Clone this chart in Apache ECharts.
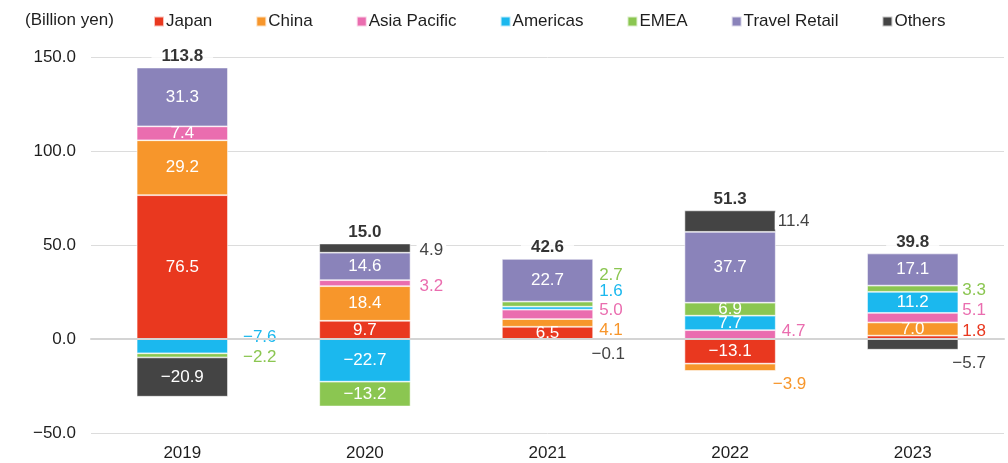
<!DOCTYPE html>
<html>
<head>
<meta charset="utf-8">
<script src="https://cdn.jsdelivr.net/npm/echarts@6/dist/echarts.min.js"></script>
<style>
  html, body { margin: 0; padding: 0; background: #fff; }
  #chart { width: 1008px; height: 463px; }
</style>
</head>
<body>
<div id="chart"></div>
<script>
// Operating profit by region, billion yen
const years = ['2019', '2020', '2021', '2022', '2023'];
const japan        = [76.5,   9.7,  6.5, -13.1,  1.8];
const china        = [29.2,  18.4,  4.1,  -3.9,  7.0];
const asiaPacific  = [ 7.4,   3.2,  5.0,   4.7,  5.1];
const americas     = [-7.6, -22.7,  1.6,   7.7, 11.2];
const emea         = [-2.2, -13.2,  2.7,   6.9,  3.3];
const travelRetail = [31.3,  14.6, 22.7,  37.7, 17.1];
const others       = [-20.9,  4.9, -0.1,  11.4, -5.7];
const totals       = [113.8, 15.0, 42.6,  51.3, 39.8];
const axisMin = -50, axisMax = 150, axisStep = 50;

const FONT = '"Liberation Sans", Arial, sans-serif';
const TEXT = '#1e1e1e';

const seriesDefs = [
  { key: 'japan',  name: 'Japan',         data: japan,        color: '#E9381F' },
  { key: 'china',  name: 'China',         data: china,        color: '#F7962B' },
  { key: 'ap',     name: 'Asia Pacific',  data: asiaPacific,  color: '#EA6DAF' },
  { key: 'am',     name: 'Americas',      data: americas,     color: '#1BB8EE' },
  { key: 'emea',   name: 'EMEA',          data: emea,         color: '#8BC651' },
  { key: 'tr',     name: 'Travel Retail', data: travelRetail, color: '#8A83BA' },
  { key: 'oth',    name: 'Others',        data: others,       color: '#444444' }
];

// Small segments get their value written beside the bar: [dx, dy] nudges
const sideLabels = {
  'am:0':   [7, -9],  'emea:0': [7, 2],
  'oth:1':  [1, 2],   'ap:1':   [1, 3],
  'emea:2': [-2, -29], 'am:2':  [-2, -17], 'ap:2': [-2, -4], 'china:2': [-2, 7], 'oth:2': [-10, 15],
  'oth:3':  [-6, 0],  'ap:3':   [-2, -3.5], 'china:3': [-11, 17.5],
  'emea:4': [-4, 1.5], 'ap:4':  [-4, -7], 'japan:4': [-4, -6], 'oth:4': [-14, 19]
};

const fmt = v => v.toFixed(1).replace('-', '\u2212');

const barSeries = seriesDefs.map(def => ({
  name: def.name,
  type: 'bar',
  stack: 'total',
  barWidth: '50%',
  itemStyle: { color: def.color, borderColor: 'rgba(255,255,255,0.7)', borderWidth: 0.8 },
  label: {
    show: true,
    position: 'inside',
    color: '#fff',
    fontSize: 17,
    fontFamily: FONT,
    formatter: p => fmt(p.value)
  },
  data: def.data.map((v, i) => {
    const side = sideLabels[def.key + ':' + i];
    if (!side) return v;
    return {
      value: v,
      label: {
        position: 'right',
        distance: 5,
        offset: side,
        color: def.color,
        backgroundColor: 'rgba(255,255,255,1)',
        padding: [0, 3]
      }
    };
  })
}));

// Net total written above the positive part of each bar
const positiveTop = years.map((_, i) =>
  seriesDefs.reduce((s, d) => s + (d.data[i] > 0 ? d.data[i] : 0), 0));

const totalSeries = {
  name: 'Total',
  type: 'scatter',
  symbolSize: 0,
  silent: true,
  z: 5,
  data: years.map((_, i) => [i, positiveTop[i]]),
  label: {
    show: true,
    position: 'top',
    distance: 3,
    color: '#000',
    fontWeight: 'bold',
    fontSize: 17,
    fontFamily: FONT,
    backgroundColor: '#fff',
    padding: [0, 10],
    formatter: p => totals[p.dataIndex].toFixed(1)
  }
};

const chart = echarts.init(document.getElementById('chart'), null, { renderer: 'canvas' });
chart.setOption({
  animation: false,
  backgroundColor: '#fff',
  title: {
    text: '(Billion yen)',
    left: 20,
    top: 7,
    textStyle: { fontSize: 17, fontWeight: 'normal', color: TEXT, fontFamily: FONT }
  },
  legend: {
    data: seriesDefs.map(d => d.name),
    left: 148,
    top: 8,
    icon: 'rect',
    itemWidth: 10,
    itemHeight: 10,
    itemGap: 43,
    textStyle: { fontSize: 17, color: TEXT, fontFamily: FONT, padding: [0, 0, 0, -3] }
  },
  grid: { left: 91, right: 4, top: 57, bottom: 30, containLabel: false },
  xAxis: [
    {
      type: 'category',
      data: years,
      position: 'bottom',
      axisLine: { show: false, onZero: false },
      axisTick: { show: false },
      axisLabel: { color: TEXT, fontSize: 17, fontFamily: FONT, margin: 12 }
    },
    {
      // zero baseline drawn over the bars
      type: 'category',
      data: years,
      position: 'top',
      z: 10,
      axisLine: { show: true, onZero: true, lineStyle: { color: '#d4d4d4', width: 2 } },
      axisTick: { show: false },
      axisLabel: { show: false }
    }
  ],
  yAxis: {
    type: 'value',
    min: axisMin,
    max: axisMax,
    interval: axisStep,
    axisLine: { show: false },
    axisTick: { show: false },
    axisLabel: { color: TEXT, fontSize: 17, fontFamily: FONT, margin: 15, formatter: v => fmt(v) },
    splitLine: { lineStyle: { color: '#dcdcdc', width: 1 } }
  },
  series: barSeries.concat([totalSeries])
});
</script>
</body>
</html>
